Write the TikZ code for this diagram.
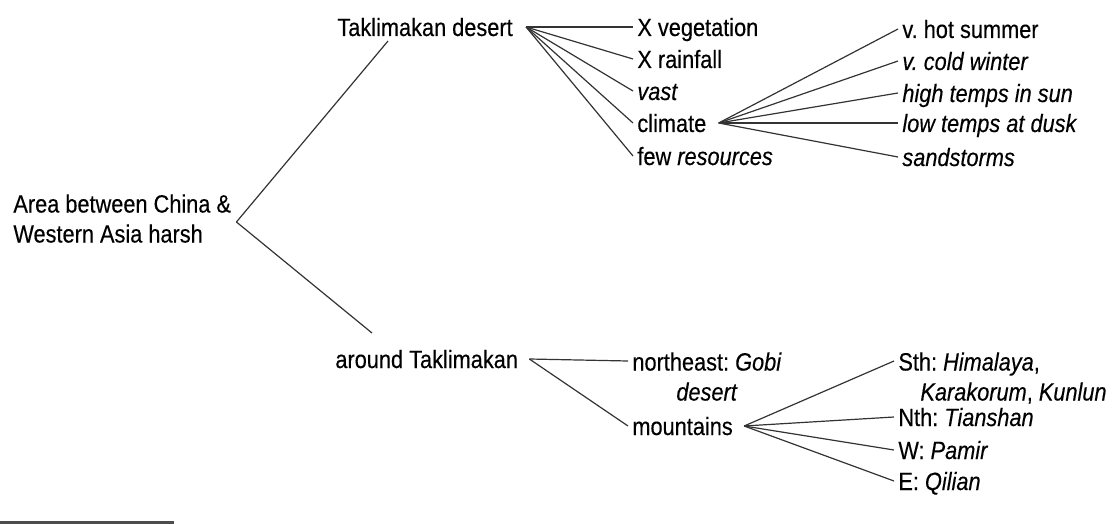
\documentclass[tikz,border=0pt]{standalone}
\usepackage{fontspec}
\setmainfont{Liberation Sans}[FakeStretch=0.87, FakeBold=0.3]
\usetikzlibrary{calc}

\begin{document}
\frenchspacing
\begin{tikzpicture}[
                    x=0.5pt, y=-0.5pt,
                    every node/.style={inner xsep=2pt, inner ysep=0pt, font=\fontsize{12.5pt}{15pt}\selectfont, text=black},
                    leaf/.style={anchor=base west, text height=9pt, text depth=0pt},
                    bloc/.style={anchor=north west, align=left},
                    branch/.style={draw=black!80, line width=0.6pt}
                ]
                \useasboundingbox (0,0) rectangle (1114,524);

                % Les noeuds
                \node[bloc] (area) at (9,194) {Area between China \&\\Western Asia harsh};

                \node[leaf] (takl) at (333,36) {Taklimakan desert};
                \node[leaf] (around) at (331,368) {around Taklimakan};

                \node[leaf] (veg) at (633,36) {X vegetation};
                \node[leaf] (rain) at (633,68) {X rainfall};
                \node[leaf] (vast) at (633,100) {\textit{vast}};
                \node[leaf] (climate) at (633,132) {climate};
                \node[leaf] (few) at (633,165) {few \textit{resources}};
                \node[bloc, align=center] (gobi) at (628,352) {northeast: \textit{Gobi}\\\textit{desert}};
                \node[leaf] (mount) at (628,435) {mountains};

                \node[leaf] (hot) at (898,38) {v. hot summer};
                \node[leaf] (cold) at (898,70) {\textit{v. cold winter}};
                \node[leaf] (high) at (898,102) {\textit{high temps in sun}};
                \node[leaf] (low) at (898,132) {\textit{low temps at dusk}};
                \node[leaf] (storm) at (898,166) {\textit{sandstorms}};
                \node[bloc] (mt-s) at (894,352) {Sth: \textit{Himalaya},\\\hspace*{11pt}\textit{Karakorum}, \textit{Kunlun}};
                \node[leaf] (mt-n) at (894,426) {Nth: \textit{Tianshan}};
                \node[leaf] (mt-w) at (894,459) {W: \textit{Pamir}};
                \node[leaf] (mt-e) at (894,490) {E: \textit{Qilian}};

                % Les points de fourche
                \coordinate (area-f) at ($(area.north east)+(1,28)$);
                \coordinate (takl-f) at ($(takl.east)+(9,0)$);
                \coordinate (climate-f) at ($(climate.east)+(8,0)$);
                \coordinate (around-f) at ($(around.east)+(7,0)$);
                \coordinate (mount-f) at ($(mount.east)+(7,0)$);

                % Les branches
                \draw[branch] (area-f) -- ($(takl.base west)+(55,5)$);
                \draw[branch] (area-f) -- ($(around.base west)+(41,-35)$);

                \draw[branch] (takl-f) -- (veg.west);
                \draw[branch] (takl-f) -- (rain.west);
                \draw[branch] (takl-f) -- (vast.west);
                \draw[branch] (takl-f) -- (climate.west);
                \draw[branch] (takl-f) -- (few.west);

                \draw[branch] (climate-f) -- (hot.west);
                \draw[branch] (climate-f) -- (cold.west);
                \draw[branch] (climate-f) -- (high.west);
                \draw[branch] (climate-f) -- (low.west);
                \draw[branch] (climate-f) -- (storm.west);

                \draw[branch] (around-f) -- ($(gobi.north west)+(0,9)$);
                \draw[branch] (around-f) -- (mount.west);

                \draw[branch] (mount-f) -- ($(mt-s.north west)+(0,9)$);
                \draw[branch] (mount-f) -- (mt-n.west);
                \draw[branch] (mount-f) -- (mt-w.west);
                \draw[branch] (mount-f) -- (mt-e.west);

                \fill[black!70] (0,521) rectangle (174,524);

\end{tikzpicture}
\end{document}
